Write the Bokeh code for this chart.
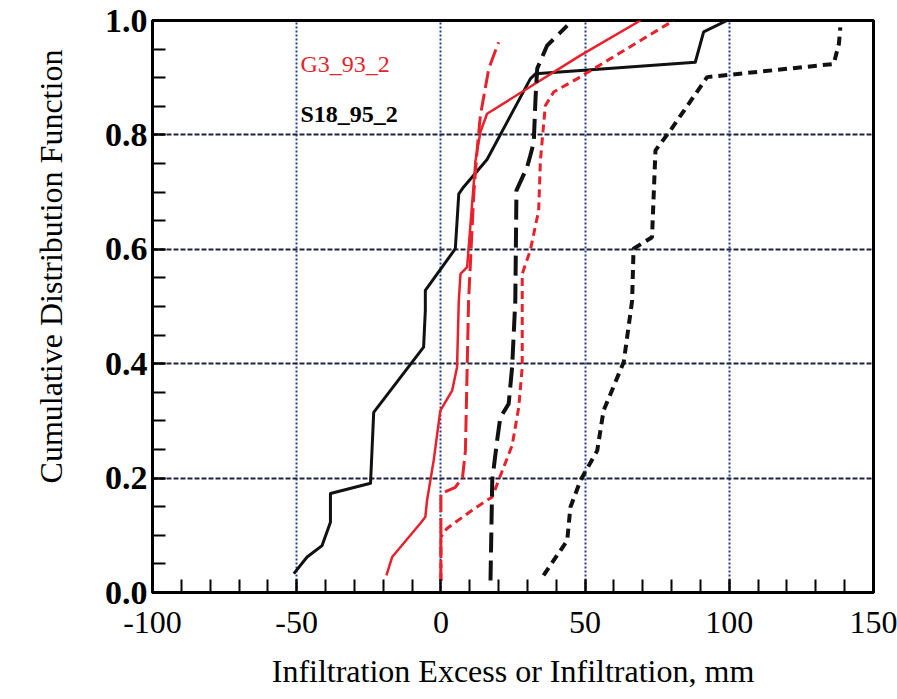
from bokeh.plotting import figure
from bokeh.models import FixedTicker, NumeralTickFormatter, Label, Range1d
from bokeh.embed import file_html
from bokeh.resources import INLINE

# ---- data ----
x_ticks = [-100, -50, 0, 50, 100, 150]
x_tick_text = {-100: "-100", -50: "-50"}
x_minor = [v for v in range(-100, 151, 10)]
y_ticks = [0.0, 0.2, 0.4, 0.6, 0.8, 1.0]
y_minor = [0.0, 0.05, 0.1, 0.15, 0.2, 0.25, 0.3, 0.35, 0.4, 0.45, 0.5,
           0.55, 0.6, 0.65, 0.7, 0.75, 0.8, 0.85, 0.9, 0.95, 1.0]

s18_solid_x = [-51.0, -46.4, -41.2, -38.3, -38.3, -24.4, -23.3, -6.0, -5.4, -5.4,
               5.0, 6.2, 7.9, 16.0, 31.0, 32.8, 88.2, 91.1, 99.2]
s18_solid_y = [0.033, 0.062, 0.082, 0.123, 0.173, 0.191, 0.315, 0.429, 0.493, 0.528,
               0.601, 0.697, 0.709, 0.757, 0.898, 0.907, 0.927, 0.980, 1.0]

g3_solid_x = [-18.9, -16.9, -7.1, -5.4, -4.8, -2.5, -0.2, 3.9, 5.6, 6.2, 6.8, 9.1,
              12.0, 13.7, 16.0, 48.4, 69.2]
g3_solid_y = [0.030, 0.062, 0.121, 0.132, 0.161, 0.231, 0.318, 0.353, 0.394, 0.510,
              0.557, 0.569, 0.755, 0.805, 0.837, 0.939, 1.0]

g3_longdash_x = [0.0, 0.0, 5.0, 7.5, 8.5, 9.6, 11.4, 12.6, 13.7, 16.6, 20.0]
g3_longdash_y = [0.02, 0.173, 0.184, 0.201, 0.248, 0.510, 0.697, 0.776, 0.834, 0.916, 0.962]

g3_shortdash_x = [0.0, 0.0, 2.1, 11.4, 17.8, 20.0, 24.7, 27.0, 28.2, 28.2, 31.0, 33.9,
                  34.5, 36.2, 39.1, 47.2, 80.7]
g3_shortdash_y = [0.02, 0.097, 0.112, 0.146, 0.167, 0.196, 0.257, 0.324, 0.394, 0.557,
                  0.598, 0.668, 0.755, 0.851, 0.875, 0.898, 1.0]

s18_longdash_x = [17.2, 17.8, 19.5, 20.6, 23.5, 24.7, 25.8, 26.2, 29.9, 31.0, 32.2,
                  32.8, 33.4, 36.8, 43.8]
s18_longdash_y = [0.021, 0.196, 0.266, 0.306, 0.330, 0.394, 0.510, 0.703, 0.744, 0.764,
                  0.787, 0.863, 0.916, 0.956, 0.991]

s18_shortdash_x = [35.6, 43.8, 44.9, 48.4, 54.2, 56.4, 58.8, 63.4, 66.3, 66.8, 73.2,
                   74.4, 79.6, 92.3, 136.2, 138.0, 138.5]
s18_shortdash_y = [0.030, 0.091, 0.149, 0.196, 0.248, 0.318, 0.347, 0.403, 0.510, 0.601,
                   0.621, 0.773, 0.808, 0.901, 0.924, 0.959, 0.988]

series_labels = ["G3_93_2", "S18_95_2"]
x_title = "Infiltration Excess or Infiltration, mm"
y_title = "Cumulative Distribution Function"

RED = "#e8212b"
BLACK = "#111111"
FONT = "Liberation Serif"
NBSP = "\u00a0"

p = figure(width=897, height=699, output_backend="svg", toolbar_location=None,
           x_range=Range1d(-100, 150), y_range=Range1d(0, 1))
p.min_border_left = 152
p.min_border_right = 24
p.min_border_top = 20
p.min_border_bottom = 107
p.background_fill_color = "white"
p.border_fill_color = "white"
p.outline_line_color = "black"
p.outline_line_width = 3

# axes
p.xaxis.ticker = FixedTicker(ticks=x_ticks, minor_ticks=x_minor)
p.xaxis.major_label_overrides = x_tick_text
p.yaxis.ticker = FixedTicker(ticks=y_ticks, minor_ticks=y_minor)
p.yaxis.formatter = NumeralTickFormatter(format="0.0")
for ax in (p.xaxis[0], p.yaxis[0]):
    ax.axis_line_width = 3
    ax.axis_line_color = "black"
    ax.major_tick_in = 13
    ax.major_tick_out = 0
    ax.minor_tick_in = 13
    ax.minor_tick_out = 0
    ax.major_tick_line_width = 2
    ax.minor_tick_line_width = 2
    ax.major_tick_line_color = "black"
    ax.minor_tick_line_color = "black"
    ax.major_label_text_font = FONT
    ax.major_label_text_color = "black"
    ax.axis_label_text_font = FONT
    ax.axis_label_text_font_size = "32px"
    ax.axis_label_text_font_style = "normal"
    ax.axis_label_text_color = "black"
p.xaxis.major_label_text_font_size = "32px"
p.xaxis.major_label_standoff = 19
p.yaxis.major_label_text_font_size = "34px"
p.yaxis.major_label_text_font_style = "bold"
p.yaxis.major_label_standoff = 5

p.xaxis.axis_label = x_title
p.xaxis.axis_label_standoff = 17
# leading no-break spaces shift the centred title upward, as in the original
p.yaxis.axis_label = NBSP * 10 + y_title
p.yaxis.axis_label_standoff = 33

# grid
p.xgrid.grid_line_color = "#1f3d99"
p.xgrid.grid_line_width = 2
p.xgrid.grid_line_dash = "2 2"
p.ygrid.grid_line_color = "#1c2240"
p.ygrid.grid_line_width = 2
p.ygrid.grid_line_dash = "5 2"

# series
p.line(s18_solid_x, s18_solid_y, line_color=BLACK, line_width=3, line_join="round")
p.line(g3_solid_x, g3_solid_y, line_color=RED, line_width=2.5, line_join="round")
p.line(g3_longdash_x, g3_longdash_y, line_color=RED, line_width=3, line_dash="17 6")
p.line(g3_shortdash_x, g3_shortdash_y, line_color=RED, line_width=3, line_dash="8 5")
p.line(s18_longdash_x, s18_longdash_y, line_color=BLACK, line_width=4, line_dash="20 8")
p.line(s18_shortdash_x, s18_shortdash_y, line_color=BLACK, line_width=4, line_dash="9 6")

# series labels
p.add_layout(Label(x=-48.7, y=0.924, text=series_labels[0], text_color=RED,
                   text_font=FONT, text_font_size="24px", text_baseline="alphabetic"))
p.add_layout(Label(x=-48.7, y=0.836, text=series_labels[1], text_color="black",
                   text_font=FONT, text_font_size="24px", text_font_style="bold",
                   text_baseline="alphabetic"))

open("out.html", "w").write(file_html(p, INLINE))
